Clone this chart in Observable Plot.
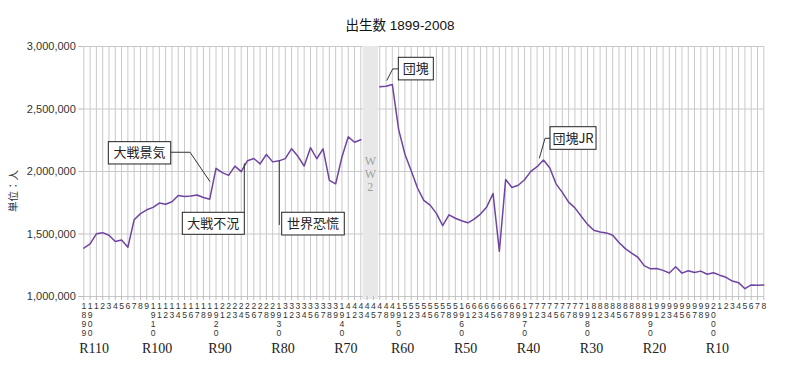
<!DOCTYPE html>
<html><head><meta charset="utf-8">
<script src="https://cdn.jsdelivr.net/npm/d3@7"></script>
<script src="https://cdn.jsdelivr.net/npm/@observablehq/plot@0.6"></script>
<style>
body{margin:0;background:#fff;}
#chart{width:800px;height:383px;}
</style></head><body><div id="chart"></div>
<script>
// categories (1946 has no record in the source table)
const years = [
1899,1900,1901,1902,1903,1904,1905,1906,1907,1908,1909,1910,1911,1912,1913,1914,1915,1916,1917,1918,
1919,1920,1921,1922,1923,1924,1925,1926,1927,1928,1929,1930,1931,1932,1933,1934,1935,1936,1937,1938,
1939,1940,1941,1942,1943,1944,1945,
1947,1948,1949,1950,1951,1952,1953,1954,1955,1956,1957,1958,1959,1960,1961,1962,1963,1964,1965,1966,
1967,1968,1969,1970,1971,1972,1973,1974,1975,1976,1977,1978,1979,1980,1981,1982,1983,1984,1985,1986,
1987,1988,1989,1990,1991,1992,1993,1994,1995,1996,1997,1998,1999,2000,2001,2002,2003,2004,2005,2006,
2007,2008];

// births (persons)
const births = [
1386981,1420534,1501591,1510835,1489816,1440371,1452770,1394295,1614472,1662815,
1693850,1712857,1747803,1737674,1757441,1808402,1799326,1804822,1812413,1791992,
1778685,2025564,1990876,1969314,2043297,1998520,2086091,2104405,2060737,2135852,
2077026,2085101,2102784,2182742,2121253,2043783,2190704,2101969,2180734,1928321,
1901573,2115867,2277283,2233660,2253535,null,null,
2678792,2681624,2696638,2337507,2137689,2005162,1868040,1769580,1730692,1665278,
1566713,1653469,1626088,1606041,1589372,1618616,1659521,1716761,1823697,1360974,
1935647,1871839,1889815,1934239,2000973,2038682,2091983,2029989,1901440,1832617,
1755100,1708643,1642580,1576889,1529455,1515392,1508687,1489780,1431577,1382946,
1346658,1314006,1246802,1221585,1223245,1208989,1188282,1238328,1187064,1206555,
1191665,1203147,1177669,1190547,1170662,1153855,1123610,1110721,1062530,1092674,
1089818,1091156];

// category tick labels as printed
const tickLabels = ("1899 1900 1 2 3 4 5 6 7 8 9 1910 11 12 13 14 15 16 17 18 19 1920 21 22 23 24 25 26 27 28 29 " +
"1930 31 32 33 34 35 36 37 38 39 1940 41 42 43 44 45 47 48 49 1950 51 52 53 54 55 56 57 58 59 " +
"1960 61 62 63 64 65 66 67 68 69 1970 71 72 73 74 75 76 77 78 79 1980 81 82 83 84 85 86 87 88 89 " +
"1990 91 92 93 94 95 96 97 98 99 2000 1 2 3 4 5 6 7 8").split(" ");

const yTicks = [1000000, 1500000, 2000000, 2500000, 3000000];

// Reiwa-offset labels under the decades
const rLabels = ["R110","R100","R90","R80","R70","R60","R50","R40","R30","R20","R10"];
const rYears  = [1900,1910,1920,1930,1940,1950,1960,1970,1980,1990,2000];

// war band
const warYears = [1944, 1945];
const warLabel = "W\nW\n2";

// annotations: label, year pointed at
const annLabels = ["大戦景気","大戦不況","世界恐慌","団塊","団塊JR"];
const annYears  = [1919, 1924, 1930, 1948, 1973];

const ix = y => years.indexOf(y);
const data = years.map((y, i) => ({i, year: y, v: births[i]}));
const idx = years.map((_, i) => i);

const plot = Plot.plot({
  width: 800, height: 383,
  marginLeft: 83.3, marginRight: 36.7, marginTop: 46, marginBottom: 87,
  x: {type: "linear", domain: [0, years.length - 1]},
  y: {domain: [1000000, 3000000]},
  style: {fontFamily: "'Liberation Sans', Arial, sans-serif", background: "#fff", color: "#333", overflow: "visible"},
  marks: [
    Plot.gridX({ticks: idx, stroke: "#c9c9c9", strokeOpacity: 1}),
    Plot.gridY({ticks: yTicks, stroke: "#c9c9c9", strokeOpacity: 1}),
    Plot.rect([warYears], {x1: d => ix(d[0]), x2: d => ix(d[1]), fill: "#e8e8e8", insetLeft: -3.9, insetRight: -5.1, insetBottom: -3}),
    Plot.text([warLabel], {x: ix(warYears[0]) + 0.5, text: d => d, frameAnchor: "middle", dy: 2, fontFamily: "'Liberation Serif', serif", fontSize: 12, lineHeight: 1.1, fill: "#a0a0a0"}),
    Plot.line(data, {x: "i", y: "v", stroke: "#7045a2", strokeWidth: 1.5}),
    Plot.axisY({ticks: yTicks, tickFormat: d3.format(","), tickSize: 5, tickPadding: 3, fontSize: 11, label: null, stroke: "#bbb"}),
    Plot.axisX({ticks: idx, tickFormat: i => tickLabels[i].split("").join("\n"), tickSize: 4, tickPadding: 2, fontSize: 8.6, lineHeight: 1.05, label: null, stroke: "#bbb"}),
    Plot.text(rLabels, {x: (d, k) => ix(rYears[k]), text: d => d, frameAnchor: "bottom", dy: 56, dx: 4, fontFamily: "'Liberation Serif', serif", fontSize: 14, fill: "#222"})
  ]
});
document.getElementById("chart").append(plot);

const svg = d3.select(plot);
const xs = plot.scale("x"), ys = plot.scale("y");

svg.append("text").attr("x", 400).attr("y", 30).attr("text-anchor", "middle")
  .style("font-family", "'Liberation Sans','Noto Sans CJK JP',sans-serif").style("font-size", "13.5px").attr("fill", "#111")
  .text("出生数 1899-2008");
svg.append("text").attr("transform", "translate(17,191) rotate(-90)").attr("text-anchor", "middle")
  .style("font-family", "'Noto Sans CJK JP',sans-serif").style("font-size", "10.5px").attr("fill", "#333")
  .text("単位：人");

// annotation geometry relative to the pointed data point (px)
const annGeom = [
  {leader: [[-38.5,-46.4],[-19.2,-46.4],[0.8,-17]], box: [-100.9,-57,62.4,22.3]},
  {leader: [[3.6,-7.9],[3.6,41.1]], box: [-58.4,41.1,62,22]},
  {leader: [[0.8,0.3],[0.8,64.6]], box: [3.2,51.9,62.6,22.7]},
  {leader: [[12.8,-16.9],[7.2,-16.9],[1.2,-5.2]], box: [12.8,-28.5,35,22.6]},
  {leader: [[7.1,-21.2],[2.1,-21.2],[-3.6,-1.2]], box: [7.1,-32.8,46,22.6]}
];
annLabels.forEach((lab, k) => {
  const i = ix(annYears[k]);
  const px = xs.apply(i), py = ys.apply(births[i]);
  const g = annGeom[k];
  const gg = svg.append("g");
  gg.append("path").attr("d", d3.line()(g.leader.map(([dx, dy]) => [px + dx, py + dy])))
    .attr("fill", "none").attr("stroke", "#333").attr("stroke-width", 1);
  const [bx, by, bw, bh] = g.box;
  gg.append("rect").attr("x", px + bx).attr("y", py + by).attr("width", bw).attr("height", bh)
    .attr("fill", "#fff").attr("stroke", "#222").attr("stroke-width", 1);
  gg.append("text").attr("x", px + bx + bw / 2).attr("y", py + by + bh / 2).attr("dy", "0.36em")
    .attr("text-anchor", "middle").style("font-family", "'Noto Sans CJK JP',sans-serif")
    .style("font-size", "13px").attr("fill", "#222").text(lab);
});
</script>
</body></html>
